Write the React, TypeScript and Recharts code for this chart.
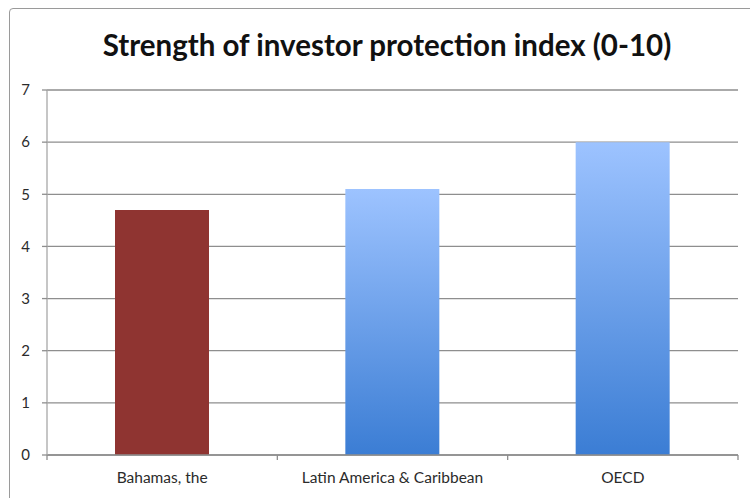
import React from 'react';
import { BarChart, Bar, XAxis, YAxis, CartesianGrid, Cell } from 'recharts';

const categories = ['Bahamas, the', 'Latin America & Caribbean', 'OECD'];
const values = [4.7, 5.1, 6.0];
const yTicks = [0, 1, 2, 3, 4, 5, 6, 7];
const barFills = ['#8f3431', 'url(#blueFade)', 'url(#blueFade)'];

const W = 750;
const H = 498;
const Y_AXIS_W = 47;
const RIGHT = 12;
const BAND = (W - Y_AXIS_W - RIGHT) / categories.length;
const FONT = 'Lato, "Open Sans", sans-serif';
const GRID = '#8e8e8e';

const data = categories.map((name, i) => ({ name, value: values[i] }));

const XTick = (props: any) => {
  const { x, y, payload, index } = props;
  const half = BAND / 2;
  return (
    <g>
      {index === 0 && (
        <line x1={x - half} x2={x - half} y1={y} y2={y + 5} stroke={GRID} strokeWidth={1.3} />
      )}
      <line x1={x + half} x2={x + half} y1={y} y2={y + 5} stroke={GRID} strokeWidth={1.3} />
      <text x={x} y={y + 28} textAnchor="middle" fontSize={15.5} fill="#2b2b2b" fontFamily={FONT}>
        {payload.value}
      </text>
    </g>
  );
};

export default function App() {
  return (
    <div style={{ position: 'fixed', left: 0, top: 0, width: W, height: H, overflow: 'hidden', background: '#fff' }}>
      <div
        style={{
          position: 'absolute',
          left: 9,
          top: 8,
          width: W + 40,
          height: H + 40,
          border: '1.5px solid #9a9a9a',
          borderRadius: 4,
        }}
      />
      <div
        style={{
          position: 'absolute',
          left: 0,
          width: W,
          top: 27,
          textAlign: 'center',
          fontFamily: FONT,
          fontWeight: 700,
          fontSize: 29.5,
          lineHeight: '36px',
          color: '#111',
          paddingLeft: 12,
        }}
      >
        Strength of investor protection index (0-10)
      </div>
      <BarChart
        width={W}
        height={H}
        data={data}
        margin={{ top: 90, right: RIGHT, left: 0, bottom: 0 }}
        style={{ position: 'absolute', left: 0, top: 0 }}
      >
        <defs>
          <linearGradient id="blueFade" x1="0" y1="0" x2="0" y2="1">
            <stop offset="0%" stopColor="#9dc3ff" />
            <stop offset="100%" stopColor="#3b7dd4" />
          </linearGradient>
        </defs>
        <CartesianGrid vertical={false} stroke={GRID} strokeWidth={1.3} />
        <XAxis
          dataKey="name"
          height={43}
          axisLine={{ stroke: GRID, strokeWidth: 1.3 }}
          tickLine={false}
          tickSize={0}
          tickMargin={0}
          tick={<XTick />}
          interval={0}
        />
        <YAxis
          width={Y_AXIS_W}
          domain={[0, 7]}
          ticks={yTicks}
          axisLine={{ stroke: '#a8a8a8', strokeWidth: 1.3 }}
          tickLine={{ stroke: GRID, strokeWidth: 1.3 }}
          tickSize={5}
          tickMargin={12}
          tick={{ fontSize: 15, fill: '#2b2b2b', fontFamily: FONT }}
        />
        <Bar dataKey="value" barSize={94} isAnimationActive={false}>
          {data.map((_d, i) => (
            <Cell key={`c-${i}`} fill={barFills[i]} />
          ))}
        </Bar>
      </BarChart>
    </div>
  );
}
